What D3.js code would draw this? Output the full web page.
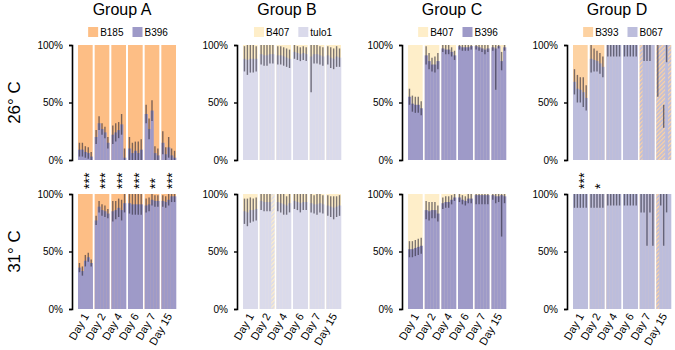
<!DOCTYPE html>
<html>
<head>
<meta charset="utf-8">
<script src="https://cdn.jsdelivr.net/npm/d3@7"></script>
<style>
  body { margin: 0; background: #fff; }
  text { font-family: "Liberation Sans", Arial, sans-serif; }
</style>
</head>
<body>
<svg id="chart" width="675" height="350"></svg>
<script>
// categories
const groups = ['Group A', 'Group B', 'Group C', 'Group D']
const temps = ['26° C', '31° C']
const days = ['Day 1', 'Day 2', 'Day 4', 'Day 6', 'Day 7', 'Day 15']
const reps = [0, 1, 2, 3, 4]
const yTicks = [0, 50, 100]

// legend names: [top series, bottom series]
const seriesNames = [['B185', 'B396'], ['B407', 'tulo1'], ['B407', 'B396'], ['B393', 'B067']]
const topColors = ['#fdbe85', '#feeec9', '#feeec9', '#fdd2a2']
const bottomColors = ['#9e9ac8', '#dadaeb', '#9e9ac8', '#bcbddc']

// bottom series share (%) per day x replicate, and error half width
const a26 = [[9, 9, 7, 6, 3], [20, 32, 27, 24, 15], [22, 24, 26, 31, 2], [10, 6, 8, 6, 9], [40, 27, 43, 6, 4], [15, 5, 11, 4, 2]]
const a26Err = [[6, 6, 5, 5, 4], [6, 6, 5, 5, 5], [8, 8, 7, 9, 8], [10, 9, 8, 10, 9], [8, 9, 9, 6, 6], [10, 6, 9, 6, 6]]
const a31 = [[36, 33, 42, 45, 40], [77, 89, 86, 85, 83], [85, 86, 88, 86, 92], [92, 91, 91, 91, 91], [90, 91, 95, 94, 94], [94, 93, 95, 98, 98]]
const a31Err = [[4, 4, 5, 4, 3], [4, 5, 5, 5, 4], [9, 8, 8, 9, 8], [9, 9, 9, 9, 9], [6, 6, 5, 5, 5], [5, 5, 5, 5, 5]]

const b26 = [[88, 87, 88, 88, 88], [92, 91, 91, 92, 92], [91, 91, 90, 89, 88], [94, 93, 92, 93, 92], [90, 92, 92, 91, 90], [91, 89, 88, 90, 89]]
const b26Err = [[11, 13, 12, 12, 11], [9, 9, 9, 8, 8], [8, 8, 8, 8, 8], [6, 6, 6, 6, 6], [31, 8, 8, 8, 8], [8, 9, 9, 9, 8]]
const b31 = [[85, 84, 86, 86, 87], [94, 93, 93, 93, 93], [93, 92, 91, 90, 92], [94, 93, 92, 93, 93], [92, 91, 91, 92, 91], [90, 89, 88, 89, 90]]
const b31Err = [[11, 12, 11, 10, 10], [8, 8, 8, 8, 0], [8, 8, 9, 8, 8], [7, 7, 8, 7, 7], [8, 8, 9, 8, 8], [9, 9, 10, 9, 9]]

const c26 = [[55, 49, 48, 48, 45], [91, 86, 83, 83, 86], [97, 96, 96, 94, 91], [99, 98, 98, 98, 99], [99, 98, 97, 96, 97], [98, 97, 99, 86, 98]]
const c26Err = [[7, 7, 7, 7, 6], [8, 7, 6, 7, 7], [3, 4, 4, 4, 4], [3, 3, 3, 3, 3], [3, 3, 3, 4, 3], [3, 36, 2, 8, 3]]
const c31 = [[52, 52, 53, 54, 55], [86, 85, 86, 86, 83], [92, 93, 93, 95, 97], [97, 95, 94, 96, 96], [99, 99, 99, 99, 99], [99, 98, 98, 99, 98]]
const c31Err = [[7, 7, 7, 7, 7], [8, 8, 7, 7, 7], [5, 5, 5, 4, 3], [4, 4, 4, 4, 4], [8, 8, 8, 8, 8], [4, 6, 5, 36, 6]]

const d26 = [[68, 62, 61, 59, 54], [88, 87, 86, 84, 81], [100, 100, 100, 100, 100], [100, 100, 100, 100, 100], [100, 100, 100, 100, 100], [100, 100, 38, 100, 100]]
const d26Err = [[11, 12, 11, 13, 11], [12, 10, 9, 9, 9], [10, 10, 10, 10, 10], [10, 10, 10, 10, 10], [0, 14, 14, 14, 0], [45, 0, 10, 15, 0]]
const d31 = [[100, 100, 100, 100, 100], [100, 100, 100, 100, 100], [100, 100, 100, 100, 100], [100, 100, 100, 100, 100], [100, 100, 100, 100, 100], [100, 100, 100, 100, 100]]
const d31Err = [[12, 12, 12, 12, 12], [12, 12, 12, 12, 12], [10, 10, 10, 10, 10], [10, 10, 10, 10, 10], [16, 16, 45, 16, 45], [0, 10, 45, 16, 0]]

// hatched replicates: [day index, replicate index]
const b31Hatch = [[1, 4]]
const d26Hatch = [[4, 0], [5, 0], [5, 1], [5, 2], [5, 4]]
const d31Hatch = [[5, 0]]

// significance stars over the 31° C row
const a31Stars = ['***', '***', '***', '***', '**', '***']
const d31Stars = ['***', '*', '', '', '', '']

const panels = [
    { g: 0, t: 0, v: a26, e: a26Err, hatch: [] },
    { g: 0, t: 1, v: a31, e: a31Err, hatch: [], stars: a31Stars },
    { g: 1, t: 0, v: b26, e: b26Err, hatch: [] },
    { g: 1, t: 1, v: b31, e: b31Err, hatch: b31Hatch },
    { g: 2, t: 0, v: c26, e: c26Err, hatch: [] },
    { g: 2, t: 1, v: c31, e: c31Err, hatch: [] },
    { g: 3, t: 0, v: d26, e: d26Err, hatch: d26Hatch },
    { g: 3, t: 1, v: d31, e: d31Err, hatch: d31Hatch, stars: d31Stars },
]

const svg = d3.select('#chart')
const panelH = 115
const groupX = d3.scaleBand().domain(groups).range([72, 732])
const rowTop = d3.scaleOrdinal().domain(temps).range([45, 194])

// hatch patterns
const defs = svg.append('defs')
groups.forEach((g, i) => {
    const p = defs.append('pattern')
        .attr('id', 'hatch' + i)
        .attr('patternUnits', 'userSpaceOnUse')
        .attr('width', 3).attr('height', 3)
        .attr('patternTransform', 'rotate(45)')
    p.append('rect').attr('width', 3).attr('height', 3).attr('fill', bottomColors[i])
    p.append('rect').attr('width', 1.3).attr('height', 3).attr('fill', topColors[i])
})

// titles and legends
groups.forEach((g, i) => {
    const ax = groupX(g)
    svg.append('text')
        .attr('x', ax + 50).attr('y', 15)
        .attr('text-anchor', 'middle')
        .attr('font-size', 16)
        .text(g)

    const lg = svg.append('g')
    let cx = 0
    seriesNames[i].forEach((name, k) => {
        const item = lg.append('g').attr('transform', `translate(${cx},0)`)
        item.append('rect').attr('width', 10).attr('height', 10).attr('y', 27)
            .attr('fill', k === 0 ? topColors[i] : bottomColors[i])
        const t = item.append('text').attr('x', 12).attr('y', 36)
            .attr('font-size', 10).text(name)
        cx += 12 + t.node().getComputedTextLength() + 9
    })
    const w = cx - 9
    lg.attr('transform', `translate(${ax + 56 - w / 2},0)`)
})

// row labels
temps.forEach(t => {
    const cy = rowTop(t) + panelH / 2
    svg.append('text')
        .attr('transform', `translate(20,${cy}) rotate(-90)`)
        .attr('text-anchor', 'middle')
        .attr('font-size', 17)
        .text(t)
})

panels.forEach(p => {
    const ax = groupX(groups[p.g])
    const top = rowTop(temps[p.t])
    const y = d3.scaleLinear().domain([0, 100]).range([top + panelH, top])
    const dayX = d3.scaleBand().domain(days).range([ax + 6, ax + 104]).paddingInner(0.12)
    const repX = d3.scaleBand().domain(reps).range([0, dayX.bandwidth()])
    const hatched = new Set(p.hatch.map(h => h[0] + '-' + h[1]))

    const gp = svg.append('g')

    const dayG = gp.selectAll('.day')
        .data(days)
        .enter()
        .append('g')
        .attr('class', 'day')
        .attr('transform', d => `translate(${dayX(d)},0)`)

    // top series fills the whole column
    dayG.append('rect')
        .attr('y', y(100))
        .attr('width', dayX.bandwidth())
        .attr('height', y(0) - y(100))
        .attr('fill', topColors[p.g])

    const cells = dayG.selectAll('.rep')
        .data((d, i) => reps.map(r => ({
            day: i, rep: r, v: p.v[i][r], e: p.e[i][r],
            hatch: hatched.has(i + '-' + r),
        })))
        .enter()

    cells.append('rect')
        .attr('x', d => repX(d.rep))
        .attr('y', d => d.hatch ? y(100) : y(d.v))
        .attr('width', repX.bandwidth() + 0.3)
        .attr('height', d => d.hatch ? y(0) - y(100) : y(0) - y(d.v))
        .attr('fill', d => d.hatch ? `url(#hatch${p.g})` : bottomColors[p.g])

    cells.filter(d => d.e > 0)
        .append('line')
        .attr('x1', d => repX(d.rep) + repX.bandwidth() / 2)
        .attr('x2', d => repX(d.rep) + repX.bandwidth() / 2)
        .attr('y1', d => y(Math.min(100, d.v + d.e)))
        .attr('y2', d => y(Math.max(0, d.v - d.e)))
        .attr('stroke', '#2e2c3a')
        .attr('stroke-opacity', 0.62)
        .attr('stroke-width', 1.4)

    // y axis
    const axis = gp.append('g')
        .attr('transform', `translate(${ax},0)`)
        .call(d3.axisLeft(y).tickValues(yTicks).tickSize(3).tickPadding(6).tickFormat(d => d + '%'))
    axis.select('.domain').attr('stroke-width', 1.6)
    axis.selectAll('.tick line').attr('stroke-width', 1.4)
    axis.selectAll('text').attr('font-size', 10).attr('font-family', '"Liberation Sans", Arial, sans-serif')

    // stars: one upright column of asterisks per day
    if (p.stars) {
        gp.selectAll('.star')
            .data(p.stars.map((s, i) => ({ day: days[i], s })).filter(d => d.s.length))
            .enter()
            .append('text')
            .attr('class', 'star')
            .attr('transform', d => `translate(${dayX(d.day) + dayX.bandwidth() / 2},189) rotate(-90)`)
            .attr('dy', '0.6em')
            .attr('font-size', 14)
            .text(d => d.s)
    }

    if (p.t === 1) {
        gp.selectAll('.xlab')
            .data(days)
            .enter()
            .append('text')
            .attr('transform', d => `translate(${dayX(d) + dayX.bandwidth() / 2 + 4},316) rotate(-60)`)
            .attr('text-anchor', 'end')
            .attr('font-size', 11)
            .text(d => d)
    }
})
</script>
</body>
</html>
